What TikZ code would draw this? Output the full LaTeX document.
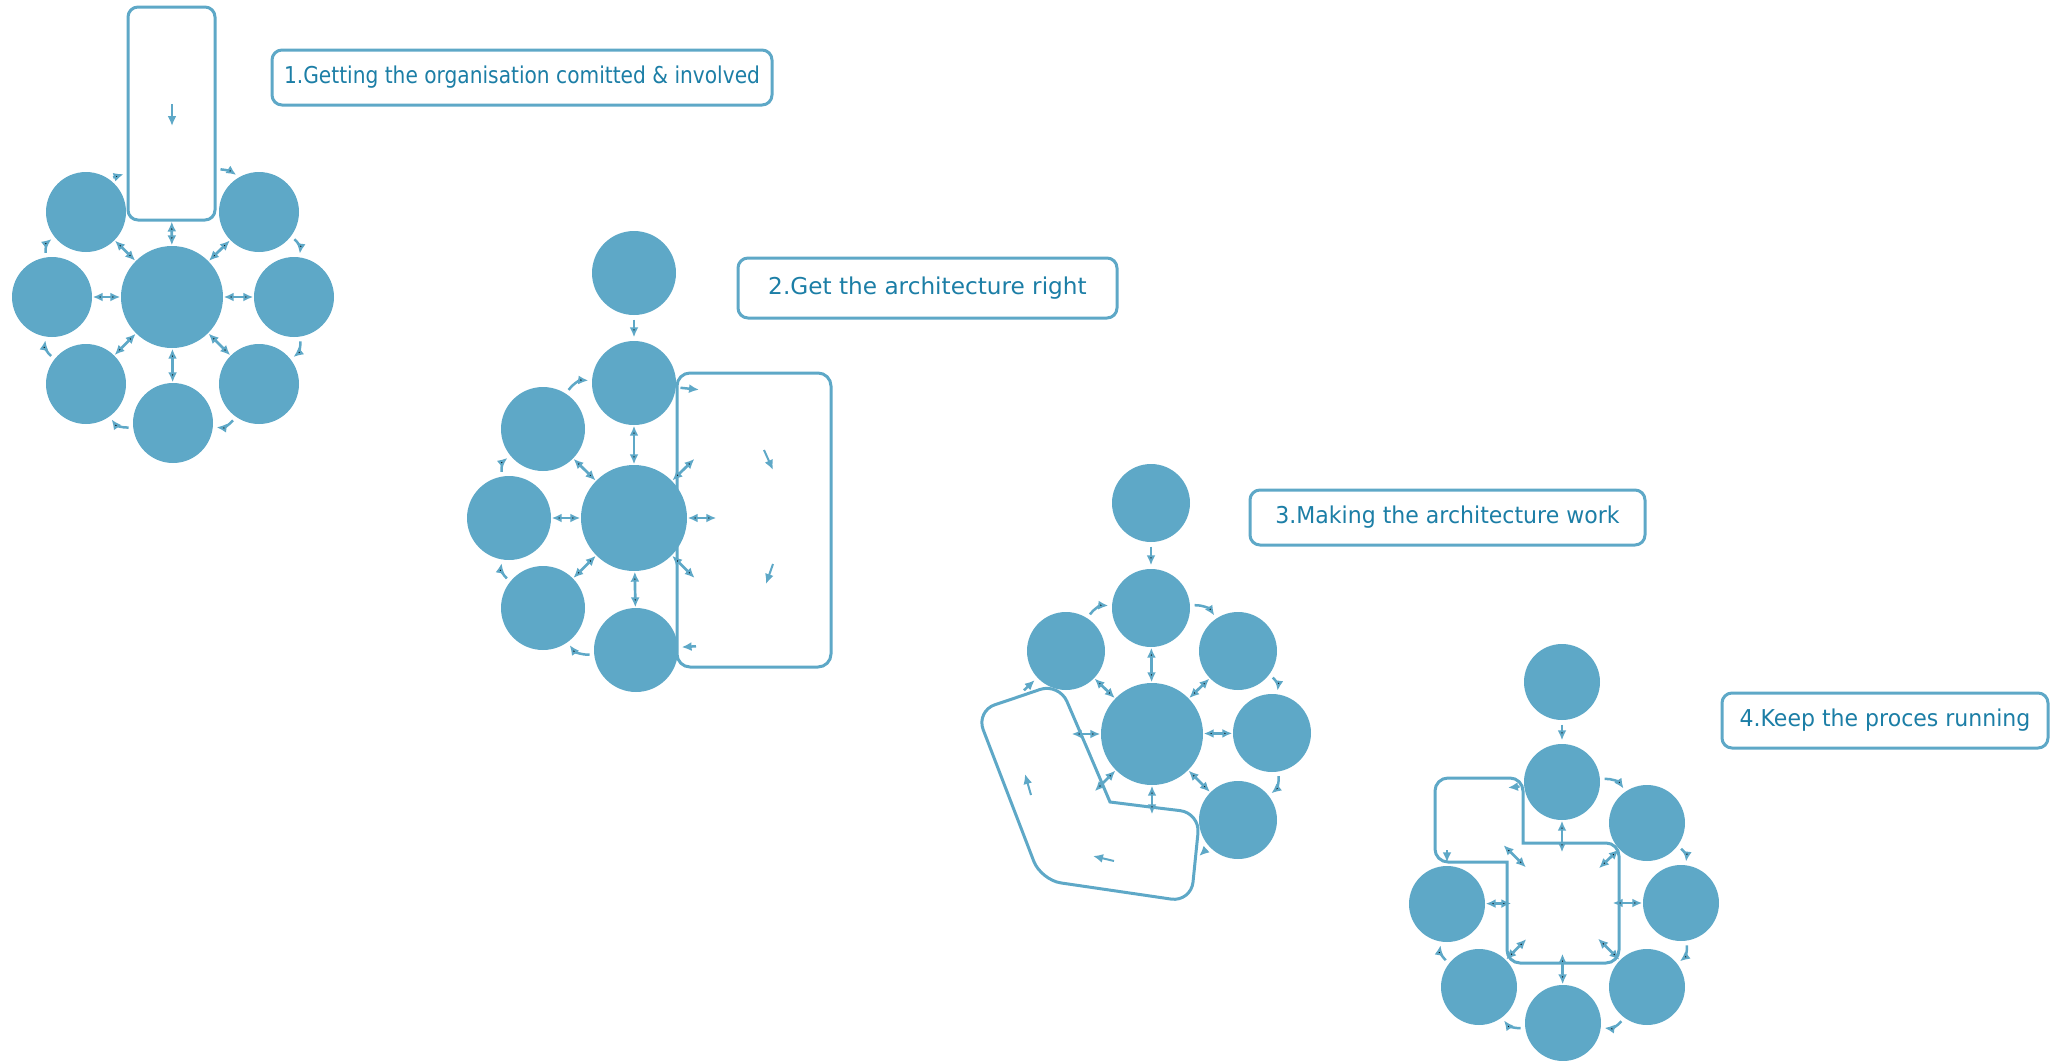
\documentclass[tikz,border=0pt]{standalone}
\usepackage{fontspec}
\newfontfamily\capfont{DejaVu Sans}
\newfontfamily\capfontmid[FakeStretch=0.95]{DejaVu Sans}
\newfontfamily\capfontnarrow[FakeStretch=0.87]{DejaVu Sans}
\usetikzlibrary{arrows.meta}
\definecolor{ballblue}{RGB}{94,168,199}
\definecolor{capblue}{RGB}{28,126,166}

\begin{document}
\begin{tikzpicture}[x=0.1mm, y=-0.1mm, >={Latex[length=1mm,width=0.9mm]},
  ball/.style={circle, fill=ballblue, inner sep=0pt, minimum size=#1}, ball/.default=8mm,
  ghost/.style={circle, inner sep=0pt, minimum size=#1}, ghost/.default=8mm,
  holder/.style={draw=ballblue, line width=0.3mm},
  caption/.style={draw=ballblue, line width=0.3mm, rounded corners=1mm, text=capblue,
    font=#1\fontsize{6.6}{8}\selectfont, minimum height=5.5mm, inner sep=0pt},
  caption/.default=\capfont,
  spoke/.style={draw=ballblue, line width=0.27mm, <->},
  ring/.style={draw=ballblue, line width=0.25mm, ->, shorten >=0.3mm, shorten <=0.4mm},
  tick/.style={draw=ballblue, line width=0.2mm, ->}]

  \useasboundingbox (0,0) rectangle (2055,1061);

  \node[caption=\capfontnarrow, minimum width=50mm] (lab1) at (522,77.5) {1.Getting the organisation comitted \& involved};
  \node[caption, minimum width=37.9mm, minimum height=6mm] (lab2) at (927.5,288) {2.Get the architecture right};
  \node[caption=\capfontmid, minimum width=39.5mm] (lab3) at (1447.5,517.5) {3.Making the architecture work};
  \node[caption=\capfontmid, minimum width=32.6mm] (lab4) at (1885,720.5) {4.Keep the proces running};

  % first group
  \node[holder, rounded corners=1mm, minimum width=8.7mm, minimum height=21.3mm, inner sep=0pt] (box1) at (171.5,113.5) {};
  \node[ball=10.2mm] (c1) at (172,297) {};
  \node[ball] (tl1) at (86,212) {};
  \node[ball] (tr1) at (259,212) {};
  \node[ball] (l1) at (52,297) {};
  \node[ball] (r1) at (294,297) {};
  \node[ball] (bl1) at (86,384) {};
  \node[ball] (br1) at (259,384) {};
  \node[ball] (b1) at (173,423) {};
  \coordinate (p1a) at (172,104);
  \coordinate (p1b) at (172,126);

  \path[spoke] (c1) edge (box1) edge (tl1) edge (tr1) edge (l1) edge (r1) edge (bl1) edge (br1) edge (b1);
  \path[ring]
    (box1.-51) edge[bend left=15] (tr1)
    (tr1) edge[bend left=30] (r1)
    (r1) edge[bend left=30] (br1)
    (br1) edge[bend left=30] (b1)
    (b1) edge[bend left=30] (bl1)
    (bl1) edge[bend left=30] (l1)
    (l1) edge[bend left=30] (tl1)
    (tl1.55) edge (box1.233);
  \draw[tick] (p1a) -- (p1b);

  % second group
  \node[holder, rounded corners=1.3mm, minimum width=15.4mm, minimum height=29.4mm, inner sep=0pt] (box2) at (754,520) {};
  \node[ball=10.6mm] (c2) at (634,518) {};
  \node[ball=8.4mm] (s2) at (634,383) {};
  \node[ball=8.4mm] (t2) [above of=s2, node distance=11mm] {};
  \node[ball=8.4mm] (ul2) at (543,429) {};
  \node[ball=8.4mm] (l2) at (509,518) {};
  \node[ball=8.4mm] (ll2) at (543,608) {};
  \node[ball=8.4mm] (b2) at (636,650) {};
  \node[ghost=8.4mm] (ur2) at (725,429) {};
  \node[ghost=8.4mm] (r2) at (759,518) {};
  \node[ghost=8.4mm] (lr2) at (725,608) {};
  \coordinate (q2a) at (702,390);
  \coordinate (q2b) at (700,646);
  \coordinate (p2a) at (764,450);
  \coordinate (p2b) at (773,470);
  \coordinate (p2c) at (773,564);
  \coordinate (p2d) at (766,584);

  \path[spoke] (c2) edge (s2) edge (ul2) edge (l2) edge (ll2) edge (b2) edge (ur2) edge (r2) edge (lr2);
  \path[ring]
    (t2) edge (s2)
    (b2) edge[bend left=30] (ll2)
    (ll2) edge[bend left=30] (l2)
    (l2) edge[bend left=30] (ul2)
    (ul2) edge[bend left=30] (s2);
  \draw[ring] (s2) -- (q2a);
  \draw[ring] (q2b) -- (b2);
  \draw[tick] (p2a) -- (p2b);
  \draw[tick] (p2c) -- (p2d);

  % third group
  \draw[holder] (1015,698) [rounded corners=2mm] -- (1059,683) -- (1090,755) [sharp corners] -- (1110,802)
    -- (1150,807) [rounded corners=2mm] -- (1200,813) -- (1191,902) -- (1041,880) -- (976,711) -- (1015,698);
  \node[ball=10.2mm] (c3) at (1152,734) {};
  \node[ball=7.8mm] (s3) at (1151,608) {};
  \node[ball=7.8mm] (t3) [above of=s3, node distance=10.5mm] {};
  \node[ball=7.8mm] (ul3) at (1066,651) {};
  \node[ball=7.8mm] (ur3) at (1238,651) {};
  \node[ball=7.8mm] (r3) at (1272,733) {};
  \node[ball=7.8mm] (lr3) at (1238,820) {};
  \node[ghost] (l3) at (1031,734) {};
  \node[ghost] (ll3) at (1066,820) {};
  \node[ghost] (b3) at (1152,855) {};
  \coordinate (q3a) at (1197,858);
  \coordinate (q3b) at (1021,693);
  \coordinate (p3a) at (1031,795);
  \coordinate (p3b) at (1025,774);
  \coordinate (p3c) at (1114,861);
  \coordinate (p3d) at (1093,856);

  \path[spoke] (c3) edge (s3) edge (ul3) edge (ur3) edge (r3) edge (lr3) edge (l3) edge (ll3) edge (b3);
  \path[ring]
    (t3) edge (s3)
    (ul3) edge[bend left=30] (s3)
    (s3) edge[bend left=30] (ur3)
    (ur3) edge[bend left=30] (r3)
    (r3) edge[bend left=30] (lr3);
  \draw[ring] (lr3) -- (q3a);
  \draw[ring] (q3b) -- (ul3);
  \draw[tick] (p3a) -- (p3b);
  \draw[tick] (p3c) -- (p3d);

  % fourth group
  \draw[holder] (1570,843) [sharp corners] -- (1523,843) -- (1523,810) [rounded corners=1.3mm] -- (1523,778)
    -- (1435,778) -- (1435,862) -- (1470,862) [sharp corners] -- (1507,862) -- (1507,900)
    [rounded corners=1.3mm] -- (1507,963) -- (1619,963) -- (1619,843) -- (1570,843);
  \node[ghost=10mm] (c4) at (1562,903) {};
  \node[ball=7.6mm] (s4) at (1562,782) {};
  \node[ball=7.6mm] (t4) [above of=s4, node distance=10mm] {};
  \node[ball=7.6mm] (ur4) at (1647,823) {};
  \node[ball=7.6mm] (r4) at (1681,903) {};
  \node[ball=7.6mm] (lr4) at (1647,987) {};
  \node[ball=7.6mm] (b4) at (1563,1023) {};
  \node[ball=7.6mm] (ll4) at (1479,987) {};
  \node[ball=7.6mm] (l4) at (1447,904) {};
  \node[ghost=7.6mm] (ul4) at (1476,818) {};
  \coordinate (q4a) at (1505,788);
  \coordinate (q4b) at (1447,846);

  \path[spoke] (c4) edge (s4) edge (ur4) edge (r4) edge (lr4) edge (b4) edge (ll4) edge (l4) edge (ul4);
  \path[ring]
    (t4) edge (s4)
    (s4) edge[bend left=30] (ur4)
    (ur4) edge[bend left=30] (r4)
    (r4) edge[bend left=30] (lr4)
    (lr4) edge[bend left=30] (b4)
    (b4) edge[bend left=30] (ll4)
    (ll4) edge[bend left=30] (l4);
  \draw[ring] (s4) -- (q4a);
  \draw[ring] (q4b) -- (l4);
\end{tikzpicture}
\end{document}
